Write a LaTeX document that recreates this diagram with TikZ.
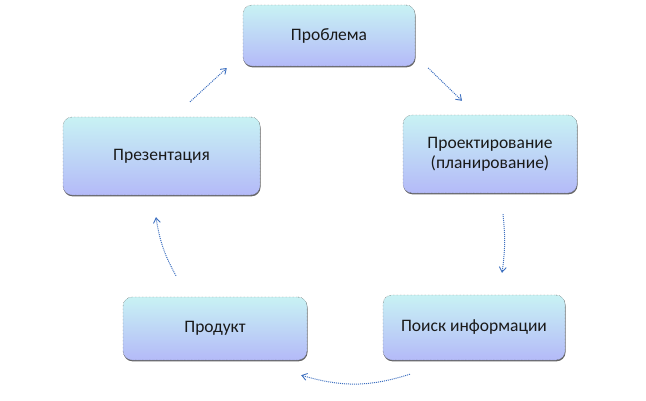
\documentclass[tikz,border=0pt]{standalone}
\usepackage{fontspec}
\setmainfont{Carlito}
\usetikzlibrary{arrows.meta,calc,shadows}
\definecolor{boxtop}{RGB}{200,242,244}
\definecolor{boxbot}{RGB}{180,186,248}
\definecolor{arrblue}{RGB}{62,112,192}
\tikzset{
  stage/.style={rounded corners=9pt, draw=black!70, densely dotted, thin,
    top color=boxtop, bottom color=boxbot, text=black!90,
    font=\fontsize{17.5}{20}\selectfont, align=center, inner sep=0pt,
    general shadow={shadow yshift=-1.3pt, shadow xshift=0.5pt, fill=black!60}},
  cyc/.style={draw=arrblue, densely dotted, line width=1pt,
    -{Straight Barb[length=5pt,width=7pt,line width=0.9pt]}}
}
\begin{document}
\begin{tikzpicture}[x=1pt,y=-1pt]
	\useasboundingbox (0,0) rectangle (646,400);
	\node[stage, minimum width=172pt, minimum height=61pt] (prob) at (329,35.5) {Проблема};
	\node[stage, minimum width=174pt, minimum height=78pt] (proj) at (490,154) {Проектирование\\(планирование)};
	\node[stage, minimum width=182pt, minimum height=65pt] (poisk) at (474,327.5) {Поиск информации};
	\node[stage, minimum width=184pt, minimum height=63pt] (prod) at (215,328.5) {Продукт};
	\node[stage, minimum width=197pt, minimum height=78pt] (prez) at (161.5,156) {Презентация};
	\draw[cyc] ($(prez.north) + (28.5,-15)$) -- ($(prob.west) + (-16,32.5)$);
	\draw[cyc] ($(prob.east) + (13,32.5)$) -- ($(proj.north) + (-28,-14)$);
	\draw[cyc] ($(proj.south) + (13,21)$) to[bend left=7] ($(poisk.north) + (28,-22)$);
	\draw[cyc] ($(poisk.south) + (-64,14)$) to[bend left=17] ($(prod.south east) + (-6,15)$);
	\draw[cyc] ($(prod.north) + (-39,-21)$) to[bend left=10] ($(prez.south) + (-5.5,22)$);
\end{tikzpicture}
\end{document}
